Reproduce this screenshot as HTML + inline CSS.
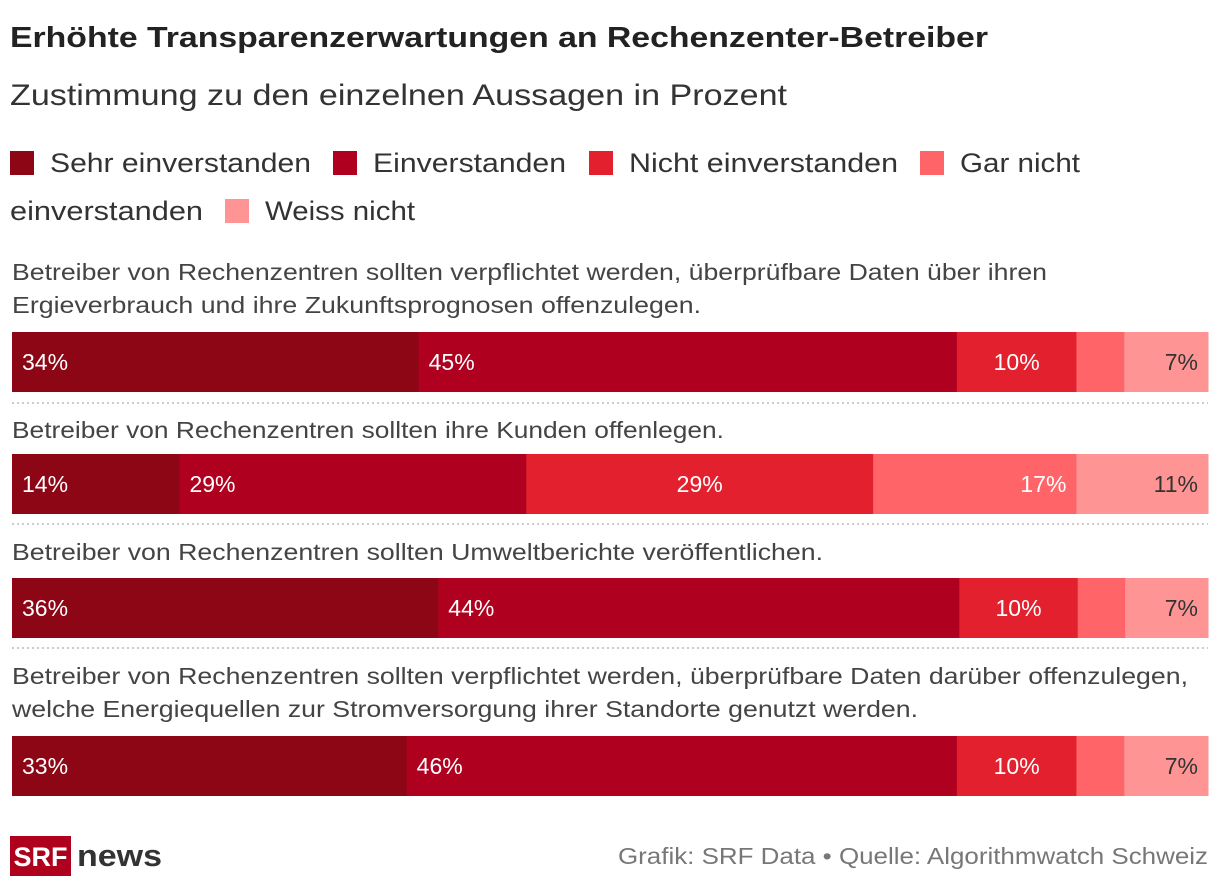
<!DOCTYPE html>
<html><head><meta charset="utf-8"><style>
body{margin:0;background:#fff;width:1220px;height:886px;overflow:hidden;font-family:"Liberation Sans","DejaVu Sans",sans-serif;}
</style></head><body>
<svg id="c" width="1220" height="886" xmlns="http://www.w3.org/2000/svg" style="font-family:'Liberation Sans',sans-serif">
<text x="10" y="47" font-size="29" font-weight="bold" fill="#222" textLength="978" lengthAdjust="spacingAndGlyphs">Erhöhte Transparenzerwartungen an Rechenzenter-Betreiber</text>
<text x="10" y="105" font-size="30" fill="#333" textLength="777" lengthAdjust="spacingAndGlyphs">Zustimmung zu den einzelnen Aussagen in Prozent</text>
<g id="legend" font-size="27" fill="#333"></g>
<g id="rows"></g>
<rect x="10" y="836" width="61" height="40" fill="#af001e"/>
<text x="40.5" y="866" font-size="27" font-weight="bold" fill="#fff" text-anchor="middle">SRF</text>
<text x="77" y="866" font-size="31" font-weight="bold" fill="#333" textLength="85" lengthAdjust="spacingAndGlyphs">news</text>
<text x="618" y="864" font-size="23" fill="#777" textLength="590" lengthAdjust="spacingAndGlyphs">Grafik: SRF Data • Quelle: Algorithmwatch Schweiz</text>
</svg>
<script>
const categories=["Sehr einverstanden","Einverstanden","Nicht einverstanden","Gar nicht einverstanden","Weiss nicht"];
const colors=["#8c0616","#b0001f","#e3202e","#ff6468","#ff9494"];
const questions=[
["Betreiber von Rechenzentren sollten verpflichtet werden, überprüfbare Daten über ihren","Ergieverbrauch und ihre Zukunftsprognosen offenzulegen."],
["Betreiber von Rechenzentren sollten ihre Kunden offenlegen."],
["Betreiber von Rechenzentren sollten Umweltberichte veröffentlichen."],
["Betreiber von Rechenzentren sollten verpflichtet werden, überprüfbare Daten darüber offenzulegen,","welche Energiequellen zur Stromversorgung ihrer Standorte genutzt werden."]];
const qWidths=[[1035,689],[712],[811],[1176,906]];
const sehr=[34,14,36,33];
const einv=[45,29,44,46];
const nicht=[10,29,10,10];
const garNicht=[4,17,4,4];
const weiss=[7,11,7,7];
const NS="http://www.w3.org/2000/svg";
function mk(t,a,p){const e=document.createElementNS(NS,t);for(const k in a)e.setAttribute(k,a[k]);p.appendChild(e);return e;}
const lg=document.getElementById('legend');
const legItems=[[10,172,0,261],[333,172,1,193],[589,172,2,269],[920,172,3,120],[225,220,4,150]];
legItems.forEach(([x,y,i,tw])=>{
 const r=mk('rect',{x:x,y:y-21,width:24,height:24,fill:colors[i]},lg);
 
 
 const t=mk('text',{x:x+40,y:y,textLength:tw,lengthAdjust:"spacingAndGlyphs"},lg);
 
 
 t.textContent=i==3?"Gar nicht":categories[i];
});
const t2=mk('text',{x:10,y:220,textLength:193,lengthAdjust:"spacingAndGlyphs"},lg);t2.textContent="einverstanden";


const g=document.getElementById('rows');
const barY=[332,454,578,736], textY=[280,438,560,684], sepY=[403,524,648];
const x0=12,W=1196;
sepY.forEach(y=>{const l=mk('line',{x1:12,x2:1208,y1:y,y2:y,stroke:"#ccc","stroke-width":2,"stroke-dasharray":"2,3"},g);
 
 });
for(let r=0;r<4;r++){
 questions[r].forEach((ln,j)=>{const t=mk('text',{x:12,y:textY[r]+j*33,"font-size":23,fill:"#444",textLength:qWidths[r][j],lengthAdjust:"spacingAndGlyphs"},g);t.textContent=ln;
  
  });
 const vals=[sehr[r],einv[r],nicht[r],garNicht[r],weiss[r]];
 const tot=vals.reduce((a,b)=>a+b,0);
 let x=x0;
 vals.forEach((v,i)=>{
  const w=v/tot*W;
  const b=mk('rect',{x:x,y:barY[r],width:w+0.5,height:60,fill:colors[i]},g);
  
  
  if(v>=7){
   let tx,anc;
   if(i<2){tx=x+10;anc='start';}
   else if(i==2){tx=x+w/2;anc='middle';}
   else{tx=x+w-10;anc='end';}
   const t=mk('text',{x:tx,y:barY[r]+38,"font-size":23,fill:i==4?"#333":"#fff","text-anchor":anc},g);
   
   
   t.textContent=v+"%";
  }
  x+=w;
 });
}
</script>
</body></html>
